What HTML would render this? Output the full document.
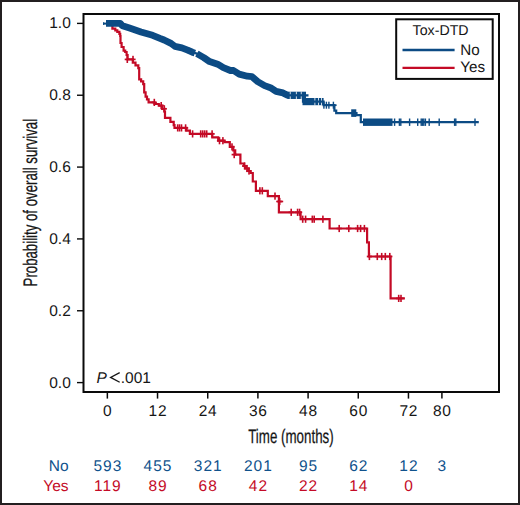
<!DOCTYPE html>
<html><head><meta charset="utf-8"><style>
html,body{margin:0;padding:0;background:#fff;}
body{width:520px;height:505px;overflow:hidden;}
svg{display:block;}
text{font-family:"Liberation Sans",sans-serif;fill:#161616;text-rendering:geometricPrecision;}
.t15{font-size:15.5px;}
.t14{font-size:14.2px;}
.t15l{font-size:15.2px;}
.ttl{font-size:19.6px;stroke:#161616;stroke-width:0.25px;}
</style></head><body>
<svg width="520" height="505" viewBox="0 0 520 505">
<rect x="1" y="1" width="518" height="503" fill="none" stroke="#231f20" stroke-width="2"/>
<rect x="83.5" y="14" width="415.5" height="378" fill="none" stroke="#0a0a0a" stroke-width="2"/>
<line x1="77" y1="23.40" x2="83" y2="23.40" stroke="#0a0a0a" stroke-width="1.4"/>
<text x="70.8" y="28.40" text-anchor="end" class="t15">1.0</text>
<line x1="77" y1="95.24" x2="83" y2="95.24" stroke="#0a0a0a" stroke-width="1.4"/>
<text x="70.8" y="100.24" text-anchor="end" class="t15">0.8</text>
<line x1="77" y1="167.08" x2="83" y2="167.08" stroke="#0a0a0a" stroke-width="1.4"/>
<text x="70.8" y="172.08" text-anchor="end" class="t15">0.6</text>
<line x1="77" y1="238.92" x2="83" y2="238.92" stroke="#0a0a0a" stroke-width="1.4"/>
<text x="70.8" y="243.92" text-anchor="end" class="t15">0.4</text>
<line x1="77" y1="310.76" x2="83" y2="310.76" stroke="#0a0a0a" stroke-width="1.4"/>
<text x="70.8" y="315.76" text-anchor="end" class="t15">0.2</text>
<line x1="77" y1="382.60" x2="83" y2="382.60" stroke="#0a0a0a" stroke-width="1.4"/>
<text x="70.8" y="387.60" text-anchor="end" class="t15">0.0</text>
<line x1="107.35" y1="392" x2="107.35" y2="398.6" stroke="#0a0a0a" stroke-width="1.5"/>
<text x="107.75" y="415.6" text-anchor="middle" class="t15" style="letter-spacing:0.8px">0</text>
<line x1="157.53" y1="392" x2="157.53" y2="398.6" stroke="#0a0a0a" stroke-width="1.5"/>
<text x="157.93" y="415.6" text-anchor="middle" class="t15" style="letter-spacing:0.8px">12</text>
<line x1="207.72" y1="392" x2="207.72" y2="398.6" stroke="#0a0a0a" stroke-width="1.5"/>
<text x="208.12" y="415.6" text-anchor="middle" class="t15" style="letter-spacing:0.8px">24</text>
<line x1="257.90" y1="392" x2="257.90" y2="398.6" stroke="#0a0a0a" stroke-width="1.5"/>
<text x="258.30" y="415.6" text-anchor="middle" class="t15" style="letter-spacing:0.8px">36</text>
<line x1="308.09" y1="392" x2="308.09" y2="398.6" stroke="#0a0a0a" stroke-width="1.5"/>
<text x="308.49" y="415.6" text-anchor="middle" class="t15" style="letter-spacing:0.8px">48</text>
<line x1="358.27" y1="392" x2="358.27" y2="398.6" stroke="#0a0a0a" stroke-width="1.5"/>
<text x="358.67" y="415.6" text-anchor="middle" class="t15" style="letter-spacing:0.8px">60</text>
<line x1="408.45" y1="392" x2="408.45" y2="398.6" stroke="#0a0a0a" stroke-width="1.5"/>
<text x="408.85" y="415.6" text-anchor="middle" class="t15" style="letter-spacing:0.8px">72</text>
<line x1="441.91" y1="392" x2="441.91" y2="398.6" stroke="#0a0a0a" stroke-width="1.5"/>
<text x="442.31" y="415.6" text-anchor="middle" class="t15" style="letter-spacing:0.8px">80</text>
<text x="248.2" y="442.8" class="ttl" textLength="85.5" lengthAdjust="spacingAndGlyphs">Time (months)</text>
<text transform="translate(36.6,286.4) rotate(-90)" x="0" y="0" class="ttl" textLength="167.5" lengthAdjust="spacingAndGlyphs">Probability of overall survival</text>
<text x="96.6" y="382.8" class="t15" font-style="italic" style="font-style:italic">P</text>
<path d="M119.7,372.6 L110.6,377.4 L119.7,382.2" fill="none" stroke="#161616" stroke-width="1.3" stroke-linejoin="miter"/>
<text x="120.8" y="382.8" class="t15">.001</text>
<rect x="396.2" y="19.3" width="96.5" height="59.6" fill="#fff" stroke="#0a0a0a" stroke-width="2"/>
<text x="412.6" y="34.9" class="t14">Tox-DTD</text>
<line x1="402.5" y1="50" x2="454.6" y2="50" stroke="#0c4b84" stroke-width="2.3"/>
<line x1="402.5" y1="67.9" x2="454.6" y2="67.9" stroke="#c40a26" stroke-width="2.3"/>
<text x="460.3" y="54.5" class="t15l">No</text>
<text x="460.3" y="72.2" class="t15l">Yes</text>
<polyline points="107,23.4 112.4,23.4 112.4,28.7 115.3,28.7 115.3,30.3 117.3,30.3 117.3,31.8 119.4,31.8 119.4,33.8 120.2,33.8 120.2,36.0 120.5,36.0 120.5,43.0 121.6,43.0 121.6,47.0 123.6,47.0 123.6,50.6 125.2,50.6 125.2,52.0 126.6,52.0 126.6,55.0 127.6,55.0 127.6,59.4 132.8,59.4 132.8,62.6 135.5,62.6 135.5,65.4 138.3,65.4 138.3,68.2 139.2,68.2 139.2,79.3 141.1,79.3 141.1,81.4 143.2,81.4 143.2,84.1 144.2,84.1 144.2,92.4 145.6,92.4 145.6,96.6 147.0,96.6 147.0,99.4 148.6,99.4 148.6,102.4 154.5,102.4 154.5,104.0 158.8,104.0 158.8,105.6 162.2,105.6 162.2,108.8 164.3,108.8 164.3,111.5 165.0,111.5 165.0,117.8 170.4,117.8 170.4,121.8 173.7,121.8 173.7,125.2 174.5,125.2 174.5,127.9 186.5,127.9 186.5,130.6 189.9,130.6 189.9,133.9 212.3,133.9 212.3,137.3 218.2,137.3 218.2,140.7 224.5,140.7 224.5,142.1 229.8,142.1 229.8,146.9 233.3,146.9 233.3,150.4 235.2,150.4 235.2,154.6 240.4,154.6 240.4,163.5 244.0,163.5 244.0,166.0 246.0,166.0 246.0,168.5 248.5,168.5 248.5,171.0 250.5,171.0 250.5,173.0 252.8,173.0 252.8,181.5 255.9,181.5 255.9,190.8 267.8,190.8 267.8,196.1 278.9,196.1 278.9,212.3 300.6,212.3 300.6,219.2 329.6,219.2 329.6,228.5 367.1,228.5 367.1,242.3 368.9,242.3 368.9,256.5 390.6,256.5 390.6,298.4 404.9,298.4" fill="none" stroke="#c40a26" stroke-width="2.2" stroke-linejoin="miter"/>
<rect x="126.50" y="55.80" width="1.6" height="7.2" fill="#c40a26"/>
<rect x="124.70" y="58.55" width="5.2" height="1.7" fill="#c40a26"/>
<rect x="132.20" y="55.80" width="1.6" height="7.2" fill="#c40a26"/>
<rect x="130.40" y="58.55" width="5.2" height="1.7" fill="#c40a26"/>
<rect x="153.50" y="98.80" width="1.6" height="7.2" fill="#c40a26"/>
<rect x="151.70" y="101.55" width="5.2" height="1.7" fill="#c40a26"/>
<rect x="160.40" y="102.00" width="1.6" height="7.2" fill="#c40a26"/>
<rect x="158.60" y="104.75" width="5.2" height="1.7" fill="#c40a26"/>
<rect x="163.50" y="105.20" width="1.6" height="7.2" fill="#c40a26"/>
<rect x="161.70" y="107.95" width="5.2" height="1.7" fill="#c40a26"/>
<rect x="176.90" y="124.30" width="1.6" height="7.2" fill="#c40a26"/>
<rect x="175.10" y="127.05" width="5.2" height="1.7" fill="#c40a26"/>
<rect x="178.70" y="124.30" width="1.6" height="7.2" fill="#c40a26"/>
<rect x="176.90" y="127.05" width="5.2" height="1.7" fill="#c40a26"/>
<rect x="180.70" y="124.30" width="1.6" height="7.2" fill="#c40a26"/>
<rect x="178.90" y="127.05" width="5.2" height="1.7" fill="#c40a26"/>
<rect x="184.80" y="124.30" width="1.6" height="7.2" fill="#c40a26"/>
<rect x="183.00" y="127.05" width="5.2" height="1.7" fill="#c40a26"/>
<rect x="191.80" y="130.30" width="1.6" height="7.2" fill="#c40a26"/>
<rect x="190.00" y="133.05" width="5.2" height="1.7" fill="#c40a26"/>
<rect x="199.90" y="130.30" width="1.6" height="7.2" fill="#c40a26"/>
<rect x="198.10" y="133.05" width="5.2" height="1.7" fill="#c40a26"/>
<rect x="201.90" y="130.30" width="1.6" height="7.2" fill="#c40a26"/>
<rect x="200.10" y="133.05" width="5.2" height="1.7" fill="#c40a26"/>
<rect x="203.90" y="130.30" width="1.6" height="7.2" fill="#c40a26"/>
<rect x="202.10" y="133.05" width="5.2" height="1.7" fill="#c40a26"/>
<rect x="205.90" y="130.30" width="1.6" height="7.2" fill="#c40a26"/>
<rect x="204.10" y="133.05" width="5.2" height="1.7" fill="#c40a26"/>
<rect x="211.30" y="130.30" width="1.6" height="7.2" fill="#c40a26"/>
<rect x="209.50" y="133.05" width="5.2" height="1.7" fill="#c40a26"/>
<rect x="218.70" y="137.10" width="1.6" height="7.2" fill="#c40a26"/>
<rect x="216.90" y="139.85" width="5.2" height="1.7" fill="#c40a26"/>
<rect x="222.10" y="137.10" width="1.6" height="7.2" fill="#c40a26"/>
<rect x="220.30" y="139.85" width="5.2" height="1.7" fill="#c40a26"/>
<rect x="231.20" y="143.30" width="1.6" height="7.2" fill="#c40a26"/>
<rect x="229.40" y="146.05" width="5.2" height="1.7" fill="#c40a26"/>
<rect x="233.40" y="151.00" width="1.6" height="7.2" fill="#c40a26"/>
<rect x="231.60" y="153.75" width="5.2" height="1.7" fill="#c40a26"/>
<rect x="243.80" y="162.40" width="1.6" height="7.2" fill="#c40a26"/>
<rect x="242.00" y="165.15" width="5.2" height="1.7" fill="#c40a26"/>
<rect x="246.20" y="164.90" width="1.6" height="7.2" fill="#c40a26"/>
<rect x="244.40" y="167.65" width="5.2" height="1.7" fill="#c40a26"/>
<rect x="248.20" y="167.40" width="1.6" height="7.2" fill="#c40a26"/>
<rect x="246.40" y="170.15" width="5.2" height="1.7" fill="#c40a26"/>
<rect x="259.10" y="187.20" width="1.6" height="7.2" fill="#c40a26"/>
<rect x="257.30" y="189.95" width="5.2" height="1.7" fill="#c40a26"/>
<rect x="261.50" y="187.20" width="1.6" height="7.2" fill="#c40a26"/>
<rect x="259.70" y="189.95" width="5.2" height="1.7" fill="#c40a26"/>
<rect x="274.20" y="192.50" width="1.6" height="7.2" fill="#c40a26"/>
<rect x="272.40" y="195.25" width="5.2" height="1.7" fill="#c40a26"/>
<rect x="278.90" y="197.90" width="1.6" height="7.2" fill="#c40a26"/>
<rect x="277.10" y="200.65" width="5.2" height="1.7" fill="#c40a26"/>
<rect x="290.40" y="208.70" width="1.6" height="7.2" fill="#c40a26"/>
<rect x="288.60" y="211.45" width="5.2" height="1.7" fill="#c40a26"/>
<rect x="296.80" y="208.70" width="1.6" height="7.2" fill="#c40a26"/>
<rect x="295.00" y="211.45" width="5.2" height="1.7" fill="#c40a26"/>
<rect x="298.80" y="208.70" width="1.6" height="7.2" fill="#c40a26"/>
<rect x="297.00" y="211.45" width="5.2" height="1.7" fill="#c40a26"/>
<rect x="301.90" y="215.60" width="1.6" height="7.2" fill="#c40a26"/>
<rect x="300.10" y="218.35" width="5.2" height="1.7" fill="#c40a26"/>
<rect x="304.80" y="215.60" width="1.6" height="7.2" fill="#c40a26"/>
<rect x="303.00" y="218.35" width="5.2" height="1.7" fill="#c40a26"/>
<rect x="311.50" y="215.60" width="1.6" height="7.2" fill="#c40a26"/>
<rect x="309.70" y="218.35" width="5.2" height="1.7" fill="#c40a26"/>
<rect x="313.40" y="215.60" width="1.6" height="7.2" fill="#c40a26"/>
<rect x="311.60" y="218.35" width="5.2" height="1.7" fill="#c40a26"/>
<rect x="322.10" y="215.60" width="1.6" height="7.2" fill="#c40a26"/>
<rect x="320.30" y="218.35" width="5.2" height="1.7" fill="#c40a26"/>
<rect x="338.40" y="224.90" width="1.6" height="7.2" fill="#c40a26"/>
<rect x="336.60" y="227.65" width="5.2" height="1.7" fill="#c40a26"/>
<rect x="348.00" y="224.90" width="1.6" height="7.2" fill="#c40a26"/>
<rect x="346.20" y="227.65" width="5.2" height="1.7" fill="#c40a26"/>
<rect x="356.80" y="224.90" width="1.6" height="7.2" fill="#c40a26"/>
<rect x="355.00" y="227.65" width="5.2" height="1.7" fill="#c40a26"/>
<rect x="359.80" y="224.90" width="1.6" height="7.2" fill="#c40a26"/>
<rect x="358.00" y="227.65" width="5.2" height="1.7" fill="#c40a26"/>
<rect x="363.60" y="224.90" width="1.6" height="7.2" fill="#c40a26"/>
<rect x="361.80" y="227.65" width="5.2" height="1.7" fill="#c40a26"/>
<rect x="368.60" y="252.90" width="1.6" height="7.2" fill="#c40a26"/>
<rect x="366.80" y="255.65" width="5.2" height="1.7" fill="#c40a26"/>
<rect x="376.50" y="252.90" width="1.6" height="7.2" fill="#c40a26"/>
<rect x="374.70" y="255.65" width="5.2" height="1.7" fill="#c40a26"/>
<rect x="380.90" y="252.90" width="1.6" height="7.2" fill="#c40a26"/>
<rect x="379.10" y="255.65" width="5.2" height="1.7" fill="#c40a26"/>
<rect x="384.50" y="252.90" width="1.6" height="7.2" fill="#c40a26"/>
<rect x="382.70" y="255.65" width="5.2" height="1.7" fill="#c40a26"/>
<rect x="389.00" y="252.90" width="1.6" height="7.2" fill="#c40a26"/>
<rect x="387.20" y="255.65" width="5.2" height="1.7" fill="#c40a26"/>
<rect x="397.90" y="294.80" width="1.6" height="7.2" fill="#c40a26"/>
<rect x="396.10" y="297.55" width="5.2" height="1.7" fill="#c40a26"/>
<rect x="400.20" y="294.80" width="1.6" height="7.2" fill="#c40a26"/>
<rect x="398.40" y="297.55" width="5.2" height="1.7" fill="#c40a26"/>
<line x1="276.2" y1="201.5" x2="283.2" y2="201.5" stroke="#c40a26" stroke-width="1.6"/>
<polyline points="106,23.4 120.2,23.4 122.4,25.8 129.5,28.1 141,31.9 152.6,35.3 160,38.4 164.1,40 171,43.4 175,46.4 181.9,47.8 187.7,50.1 192.3,52.2 196.9,53.6 203.8,57.6 209.6,61.6 217.7,64.2 223.4,67.7 230.4,70.5 233.5,70.5 239.2,74.1 247.3,76.2 251.9,76.7 257.7,81.6 264.6,85.6 270.4,87.7 276.1,91.4 283,92.9 287.5,95.3 303,95.3 308.5,95.4 303,95.4 303,101.6 323.6,101.6 323.6,105.2 334.4,105.2 334.4,110.6 336.2,110.6 336.2,113.1 356.5,113.1 356.5,115.2 360.8,115.2 360.8,122.2 478.8,122.2" fill="none" stroke="#0c4b84" stroke-width="2.2" stroke-linejoin="miter"/>
<polyline points="106,23.4 120.2,23.4 122.4,25.8 129.5,28.1 141,31.9 152.6,35.3 160,38.4 164.1,40 171,43.4 175,46.4 181.9,47.8 187.7,50.1 192.3,52.2 194.9,53.1" fill="none" stroke="#0c4b84" stroke-width="6.8" stroke-linejoin="round"/>
<polyline points="196.9,53.6 203.8,57.6 209.6,61.6 217.7,64.2 223.4,67.7 230.4,70.5 233.5,70.5 239.2,74.1 247.3,76.2 251.9,76.7 257.7,81.6 264.6,85.6 270.4,87.7 276.1,91.4 283,92.9 287.5,95.3 303,95.3" fill="none" stroke="#0c4b84" stroke-width="6.8" stroke-linejoin="round"/>
<rect x="287.5" y="91.70" width="18.5" height="7.2" fill="#0c4b84"/>
<rect x="302.5" y="98.00" width="21.100000000000023" height="7.2" fill="#0c4b84"/>
<rect x="351.2" y="109.30" width="5.100000000000023" height="7.6" fill="#0c4b84"/>
<rect x="363" y="118.50" width="29.5" height="7.4" fill="#0c4b84"/>
<rect x="323.20" y="101.70" width="1.4" height="7.0" fill="#0c4b84"/>
<rect x="325.70" y="101.70" width="1.4" height="7.0" fill="#0c4b84"/>
<rect x="328.20" y="101.70" width="1.4" height="7.0" fill="#0c4b84"/>
<rect x="332.70" y="101.70" width="1.4" height="7.0" fill="#0c4b84"/>
<rect x="330" y="104.35" width="6.6" height="1.7" fill="#0c4b84"/>
<rect x="289.80" y="91.50" width="0.8" height="2.70" fill="#fff"/>
<rect x="289.80" y="96.40" width="0.8" height="2.70" fill="#fff"/>
<rect x="295.90" y="91.50" width="0.8" height="2.70" fill="#fff"/>
<rect x="295.90" y="96.40" width="0.8" height="2.70" fill="#fff"/>
<rect x="300.80" y="91.50" width="0.8" height="2.70" fill="#fff"/>
<rect x="300.80" y="96.40" width="0.8" height="2.70" fill="#fff"/>
<rect x="314.50" y="97.80" width="0.8" height="2.70" fill="#fff"/>
<rect x="314.50" y="102.70" width="0.8" height="2.70" fill="#fff"/>
<rect x="318.00" y="97.80" width="0.8" height="2.70" fill="#fff"/>
<rect x="318.00" y="102.70" width="0.8" height="2.70" fill="#fff"/>
<rect x="321.20" y="97.80" width="0.8" height="2.70" fill="#fff"/>
<rect x="321.20" y="102.70" width="0.8" height="2.70" fill="#fff"/>
<rect x="393.90" y="118.50" width="1.4" height="7.4" fill="#0c4b84"/>
<rect x="398.70" y="118.50" width="1.4" height="7.4" fill="#0c4b84"/>
<rect x="400.10" y="118.50" width="1.4" height="7.4" fill="#0c4b84"/>
<rect x="408.90" y="118.50" width="1.4" height="7.4" fill="#0c4b84"/>
<rect x="417.00" y="118.50" width="1.4" height="7.4" fill="#0c4b84"/>
<rect x="420.50" y="118.50" width="1.4" height="7.4" fill="#0c4b84"/>
<rect x="421.80" y="118.50" width="1.4" height="7.4" fill="#0c4b84"/>
<rect x="423.10" y="118.50" width="1.4" height="7.4" fill="#0c4b84"/>
<rect x="424.70" y="118.50" width="1.4" height="7.4" fill="#0c4b84"/>
<rect x="428.50" y="118.50" width="1.4" height="7.4" fill="#0c4b84"/>
<rect x="438.50" y="118.50" width="1.4" height="7.4" fill="#0c4b84"/>
<rect x="453.90" y="118.50" width="1.4" height="7.4" fill="#0c4b84"/>
<rect x="455.10" y="118.50" width="1.4" height="7.4" fill="#0c4b84"/>
<rect x="474.30" y="118.50" width="1.4" height="7.4" fill="#0c4b84"/>
<line x1="103" y1="23.6" x2="106" y2="23.6" stroke="#0c4b84" stroke-width="2"/>
<rect x="103.00" y="22.35" width="1.2" height="2.5" fill="#0c4b84"/>
<text x="68.6" y="470.8" text-anchor="end" class="t15" style="fill:#10528c">No</text>
<text x="68.6" y="490.6" text-anchor="end" class="t15" style="fill:#c40a26">Yes</text>
<text x="107.85" y="470.9" text-anchor="middle" class="t15" style="fill:#10528c;letter-spacing:1px">593</text>
<text x="158.03" y="470.9" text-anchor="middle" class="t15" style="fill:#10528c;letter-spacing:1px">455</text>
<text x="208.22" y="470.9" text-anchor="middle" class="t15" style="fill:#10528c;letter-spacing:1px">321</text>
<text x="258.40" y="470.9" text-anchor="middle" class="t15" style="fill:#10528c;letter-spacing:1px">201</text>
<text x="308.59" y="470.9" text-anchor="middle" class="t15" style="fill:#10528c;letter-spacing:1px">95</text>
<text x="358.77" y="470.9" text-anchor="middle" class="t15" style="fill:#10528c;letter-spacing:1px">62</text>
<text x="408.95" y="470.9" text-anchor="middle" class="t15" style="fill:#10528c;letter-spacing:1px">12</text>
<text x="442.41" y="470.9" text-anchor="middle" class="t15" style="fill:#10528c;letter-spacing:1px">3</text>
<text x="107.85" y="490.7" text-anchor="middle" class="t15" style="fill:#c40a26;letter-spacing:1px">119</text>
<text x="158.03" y="490.7" text-anchor="middle" class="t15" style="fill:#c40a26;letter-spacing:1px">89</text>
<text x="208.22" y="490.7" text-anchor="middle" class="t15" style="fill:#c40a26;letter-spacing:1px">68</text>
<text x="258.40" y="490.7" text-anchor="middle" class="t15" style="fill:#c40a26;letter-spacing:1px">42</text>
<text x="308.59" y="490.7" text-anchor="middle" class="t15" style="fill:#c40a26;letter-spacing:1px">22</text>
<text x="358.77" y="490.7" text-anchor="middle" class="t15" style="fill:#c40a26;letter-spacing:1px">14</text>
<text x="408.95" y="490.7" text-anchor="middle" class="t15" style="fill:#c40a26;letter-spacing:1px">0</text>
</svg>
</body></html>
